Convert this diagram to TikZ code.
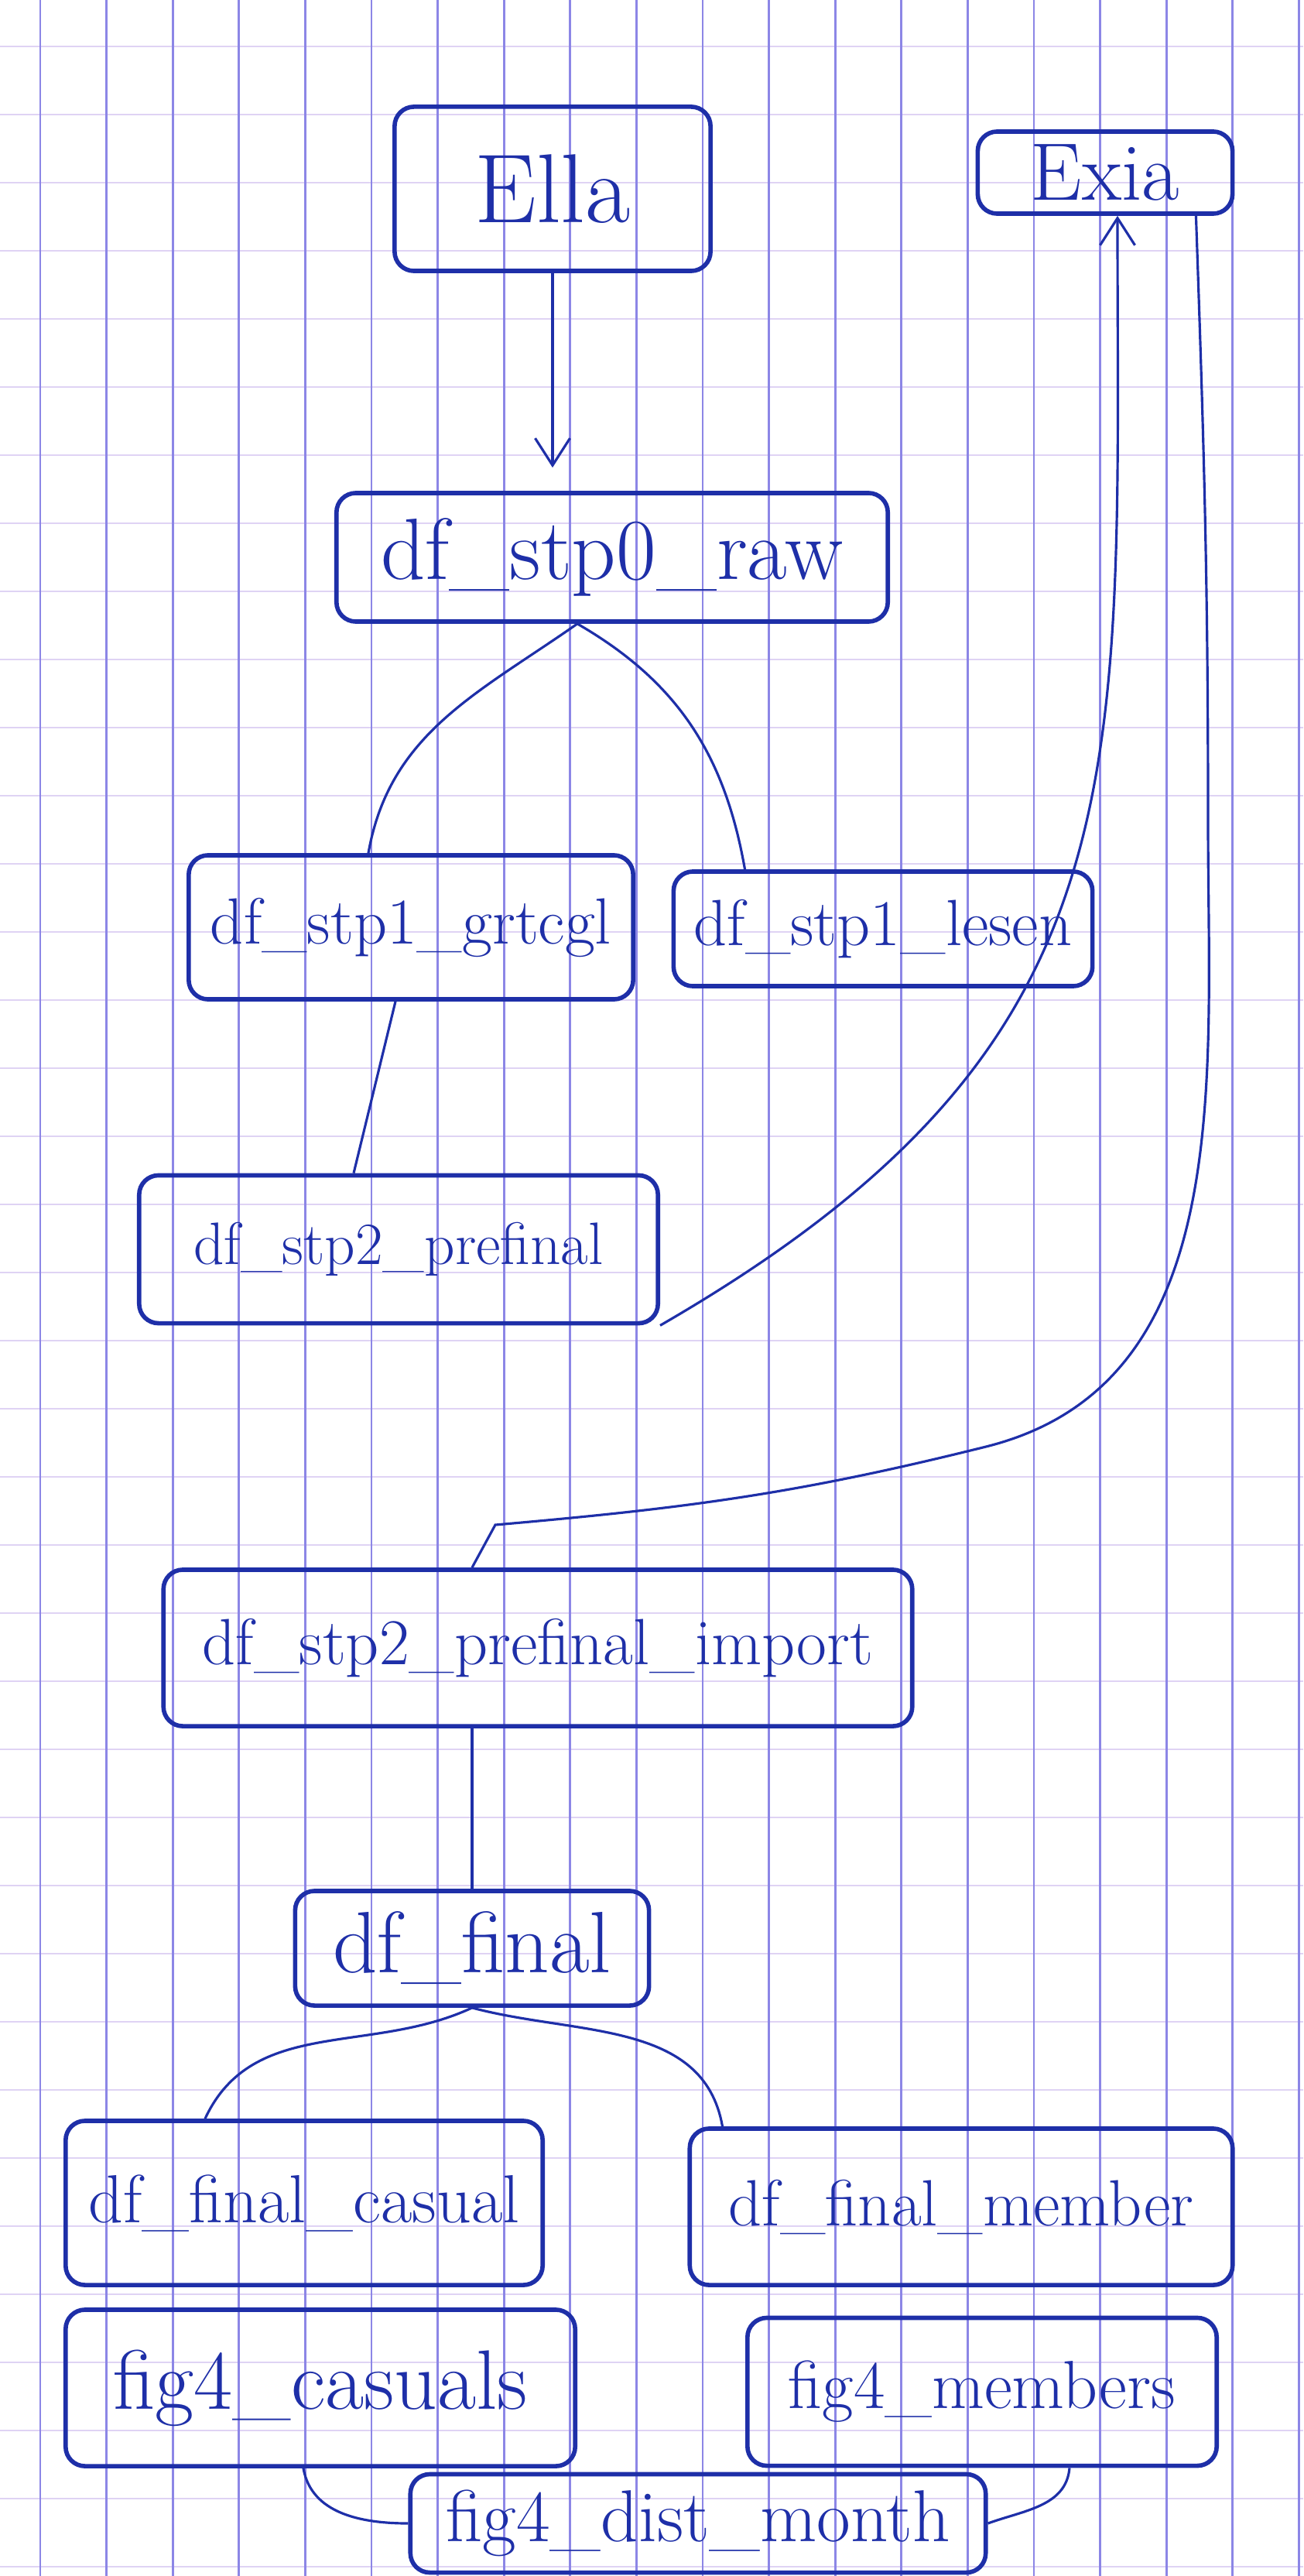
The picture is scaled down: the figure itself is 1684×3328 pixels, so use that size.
\documentclass[tikz,border=0pt]{standalone}
\usetikzlibrary{calc}
\usetikzlibrary{arrows.meta}
\definecolor{ink}{HTML}{1E2FA8}
\definecolor{gridv}{HTML}{8C86E6}
\definecolor{gridh}{HTML}{DFD3F4}
\tikzset{
  box/.style={draw=ink, text=ink, line width=1.6pt, rounded corners=0.25cm, inner sep=0pt},
  fs/.style={font=\fontsize{#1}{#1}\selectfont},
  link/.style={draw=ink, line width=0.9pt},
  tip/.style={-{Straight Barb[length=0.35cm,width=0.45cm,line width=0.9pt]}}
}
\begin{document}
\begin{tikzpicture}[x=0.01cm,y=0.01cm]
			\useasboundingbox (0,0) rectangle (1684,-3328);
			\fill[white] (0,0) rectangle (1684,-3328);
			% squared paper
			\foreach \k in {0,...,37}
			\draw[gridh, line width=0.8pt] (0,{-60-88*\k}) -- (1684,{-60-88*\k});
			\foreach \k in {0,...,19}
			\draw[gridv, line width=0.8pt] ({52+85.6*\k},0) -- ({52+85.6*\k},-3328);
			% boxes
			\node[box, fs=36, minimum width=4.08cm, minimum height=2.12cm] (ella) at (714,-244) {Ella};
			\node[box, fs=30, minimum width=3.29cm, minimum height=1.06cm] (exia) at (1428,-223) {Exia};
			\node[box, fs=32, minimum width=7.12cm, minimum height=1.66cm] (stp0) at (791,-720) {df\_stp0\_raw};
			\node[box, fs=24, minimum width=5.74cm, minimum height=1.86cm] (grtcgl) at (531,-1198) {df\_stp1\_grtcgl};
			\node[box, fs=24, minimum width=5.41cm, minimum height=1.48cm] (lesen) at (1141,-1200) {df\_stp1\_lesen};
			\node[box, fs=22, minimum width=6.70cm, minimum height=1.91cm] (prefinal) at (515,-1614) {df\_stp2\_prefinal};
			\node[box, fs=24, minimum width=9.67cm, minimum height=2.02cm] (import) at (695,-2129) {df\_stp2\_prefinal\_import};
			\node[box, fs=32, minimum width=4.57cm, minimum height=1.48cm] (final) at (610,-2517) {df\_final};
			\node[box, fs=25, minimum width=6.16cm, minimum height=2.12cm] (casual) at (393,-2846) {df\_final\_casual};
			\node[box, fs=24, minimum width=7.01cm, minimum height=2.02cm] (member) at (1242,-2851) {df\_final\_member};
			\node[box, fs=31, minimum width=6.58cm, minimum height=2.02cm] (casuals) at (414,-3085) {fig4\_casuals};
			\node[box, fs=25, minimum width=6.06cm, minimum height=1.91cm] (members) at (1269,-3090) {fig4\_members};
			\node[box, fs=27, minimum width=7.43cm, minimum height=1.27cm] (dist) at (902,-3260) {fig4\_dist\_month};
			% links
			\draw[link, tip, shorten >=0.3cm] (ella.south) -- (ella.south |- stp0.north);
			\draw[link] ($(stp0.south)+(-45,0)$) to[out=215,in=80] ($(grtcgl.north)+(-55,0)$);
			\draw[link] ($(stp0.south)+(-45,0)$) to[out=-30,in=100] ($(lesen.north west)+(95,0)$);
			\draw[link] ($(grtcgl.south)+(-20,0)$) -- ($(prefinal.north)+(-58,0)$);
			\draw[link, tip] (prefinal.south east) to[out=30,in=-90,looseness=1.2] ($(exia.south)+(16,0)$);
			\coordinate (kink) at (640,-1970);
			\draw[link] ($(exia.south east)+(-50,0)$) to[out=-88,in=90] (1561,-1062)
			to[out=-90,in=14] (1274,-1869) to[out=194,in=5] (kink) -- ($(import.north)+(-85,0)$);
			\draw[link] (final.north |- import.south) -- (final.north);
			\draw[link] (final.south) to[out=205,in=65] ($(casual.north)+(-128,0)$);
			\draw[link] (final.south) to[out=-15,in=100] ($(member.north west)+(45,0)$);
			\draw[link] ($(casuals.south)+(-22,0)$) to[out=-80,in=180] (dist.west);
			\draw[link] ($(members.south)+(113,0)$) to[out=-95,in=20] (dist.east);
		\end{tikzpicture}
\end{document}
